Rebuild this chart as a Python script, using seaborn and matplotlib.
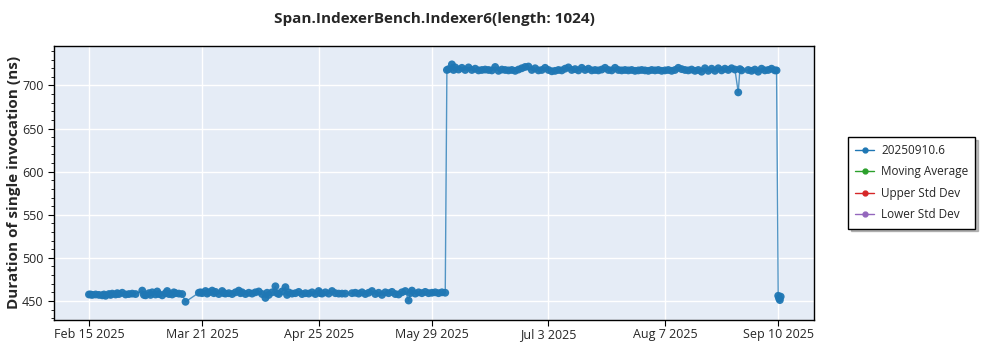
import matplotlib
matplotlib.use("Agg")
import matplotlib.pyplot as plt
from matplotlib.lines import Line2D
from matplotlib.ticker import MultipleLocator
import seaborn as sns
import pandas as pd

title = "Span.IndexerBench.Indexer6(length: 1024)"
ylabel = "Duration of single invocation (ns)"
series_name = "20250910.6"
legend_names = ["20250910.6", "Moving Average", "Upper Std Dev", "Lower Std Dev"]
legend_colors = ["#1f77b4", "#2ca02c", "#d62728", "#9467bd"]

tick_dates = ["2025-02-15", "2025-03-21", "2025-04-25", "2025-05-29",
              "2025-07-03", "2025-08-07", "2025-09-10"]
tick_labels = ["Feb 15 2025", "Mar 21 2025", "Apr 25 2025", "May 29 2025",
               "Jul 3 2025", "Aug 7 2025", "Sep 10 2025"]

dates = [
    "2025-02-15", "2025-02-15 12:00", "2025-02-16", "2025-02-17", "2025-02-18",
    "2025-02-19", "2025-02-19 12:00", "2025-02-20", "2025-02-21", "2025-02-21 12:00",
    "2025-02-22", "2025-02-23", "2025-02-23 12:00", "2025-02-24", "2025-02-25",
    "2025-02-26", "2025-02-27", "2025-02-28", "2025-03-01", "2025-03-03",
    "2025-03-03 12:00", "2025-03-04", "2025-03-05", "2025-03-05 12:00", "2025-03-06",
    "2025-03-07", "2025-03-07 12:00", "2025-03-08", "2025-03-09", "2025-03-10",
    "2025-03-10 12:00", "2025-03-11", "2025-03-12", "2025-03-12 12:00", "2025-03-13",
    "2025-03-14", "2025-03-15", "2025-03-16", "2025-03-20", "2025-03-20 12:00",
    "2025-03-21", "2025-03-22", "2025-03-22 12:00", "2025-03-23", "2025-03-24",
    "2025-03-24 12:00", "2025-03-25", "2025-03-26", "2025-03-27", "2025-03-27 12:00",
    "2025-03-28", "2025-03-29", "2025-03-30", "2025-03-31", "2025-04-01",
    "2025-04-01 12:00", "2025-04-02", "2025-04-03", "2025-04-04", "2025-04-05",
    "2025-04-06", "2025-04-07", "2025-04-08", "2025-04-09", "2025-04-09 12:00",
    "2025-04-10", "2025-04-11", "2025-04-12", "2025-04-12 12:00", "2025-04-13",
    "2025-04-14", "2025-04-15", "2025-04-15 12:00", "2025-04-16", "2025-04-17",
    "2025-04-18", "2025-04-19", "2025-04-20", "2025-04-21", "2025-04-22",
    "2025-04-23", "2025-04-24", "2025-04-25", "2025-04-25 12:00", "2025-04-26",
    "2025-04-27", "2025-04-28", "2025-04-29", "2025-04-30", "2025-05-01",
    "2025-05-02", "2025-05-03", "2025-05-05", "2025-05-06", "2025-05-07",
    "2025-05-08", "2025-05-09", "2025-05-10", "2025-05-11", "2025-05-12",
    "2025-05-13", "2025-05-14", "2025-05-15", "2025-05-16", "2025-05-17",
    "2025-05-18", "2025-05-19", "2025-05-20", "2025-05-21", "2025-05-22",
    "2025-05-22 12:00", "2025-05-23", "2025-05-24", "2025-05-25", "2025-05-26",
    "2025-05-27", "2025-05-28", "2025-05-29", "2025-05-30", "2025-05-31",
    "2025-06-01", "2025-06-02",
    "2025-06-02 12:00", "2025-06-03", "2025-06-04", "2025-06-04 12:00", "2025-06-05",
    "2025-06-06", "2025-06-07", "2025-06-08", "2025-06-09", "2025-06-10",
    "2025-06-11", "2025-06-12", "2025-06-13", "2025-06-14", "2025-06-15",
    "2025-06-16", "2025-06-17", "2025-06-18", "2025-06-19", "2025-06-20",
    "2025-06-21", "2025-06-22", "2025-06-23", "2025-06-24", "2025-06-25",
    "2025-06-26", "2025-06-27", "2025-06-28", "2025-06-29", "2025-06-30",
    "2025-07-01", "2025-07-02", "2025-07-03", "2025-07-04", "2025-07-05",
    "2025-07-06", "2025-07-07", "2025-07-08", "2025-07-09", "2025-07-10",
    "2025-07-11", "2025-07-12", "2025-07-13", "2025-07-14", "2025-07-15",
    "2025-07-16", "2025-07-17", "2025-07-18", "2025-07-19", "2025-07-20",
    "2025-07-21", "2025-07-22", "2025-07-23", "2025-07-24", "2025-07-25",
    "2025-07-26", "2025-07-27", "2025-07-28", "2025-07-29", "2025-07-30",
    "2025-07-31", "2025-08-01", "2025-08-02", "2025-08-03", "2025-08-04",
    "2025-08-05", "2025-08-06", "2025-08-07", "2025-08-08", "2025-08-09",
    "2025-08-10", "2025-08-11", "2025-08-12", "2025-08-13", "2025-08-14",
    "2025-08-15", "2025-08-16", "2025-08-17", "2025-08-18", "2025-08-19",
    "2025-08-20", "2025-08-21", "2025-08-22", "2025-08-23", "2025-08-24",
    "2025-08-25", "2025-08-26", "2025-08-27", "2025-08-28", "2025-08-29",
    "2025-08-29 12:00", "2025-08-30", "2025-09-01", "2025-09-02", "2025-09-03",
    "2025-09-04", "2025-09-05", "2025-09-06", "2025-09-07", "2025-09-08",
    "2025-09-09", "2025-09-09 12:00",
    "2025-09-10", "2025-09-10 06:00", "2025-09-10 12:00", "2025-09-10 18:00",
]

values = [
    457.5, 457.5, 457.0, 457.5, 457.0,
    456.5, 457.5, 456.0, 458.0, 457.0,
    458.5, 457.5, 459.0, 458.0, 459.5,
    457.5, 458.0, 458.5, 458.0, 462.0,
    457.0, 456.5, 459.0, 457.0, 460.0,
    457.5, 461.0, 458.0, 456.5, 459.0,
    461.5, 458.0, 457.5, 460.0, 459.0,
    458.5, 458.0, 449.0, 459.5, 460.0,
    459.0, 461.5, 458.5, 460.0, 462.0,
    459.0, 460.5, 458.0, 461.5, 459.0,
    458.5, 459.0, 458.0, 460.0, 462.0,
    459.0, 460.0, 458.0, 459.5, 458.5,
    460.0, 461.0, 458.0, 453.5, 459.5,
    457.0, 460.0, 467.0, 459.0, 458.0,
    461.0, 466.0, 457.0, 460.0, 458.5,
    459.0, 460.5, 458.0, 459.0, 458.5,
    460.0, 458.0, 461.5, 459.0, 458.5,
    460.0, 458.5, 461.5, 459.0, 458.5,
    458.5, 458.5, 459.0, 459.5, 458.5,
    460.0, 458.0, 459.5, 461.5, 458.0,
    459.5, 457.0, 460.0, 459.0, 460.5,
    458.0, 457.5, 460.0, 461.5, 450.5,
    459.0, 462.0, 458.5, 460.0, 459.0,
    460.5, 459.0, 459.5, 460.0, 459.0,
    460.0, 459.5,
    718.0, 719.0, 724.5, 718.0, 721.0,
    718.5, 720.5, 718.0, 721.0, 718.0,
    719.5, 717.5, 718.0, 718.5, 718.0,
    717.5, 721.5, 717.0, 718.5, 718.0,
    717.5, 718.0, 717.0, 718.5, 720.0,
    721.5, 722.0, 718.0, 720.0, 717.5,
    718.0, 720.5, 718.0, 716.5, 717.0,
    718.0, 717.5, 719.5, 721.0, 718.0,
    719.0, 717.5, 720.5, 718.0, 719.5,
    717.5, 718.0, 717.5, 718.5, 720.5,
    718.0, 717.5, 720.5, 718.0, 717.5,
    718.0, 717.5, 718.0, 717.0, 717.5,
    718.0, 717.5, 717.0, 718.0, 717.5,
    718.0, 717.0, 717.5, 718.0, 717.0,
    718.0, 720.5, 719.0, 718.0, 717.5,
    718.5, 717.0, 718.0, 716.0, 720.0,
    717.0, 719.5, 717.0, 720.0, 717.5,
    719.5, 718.0, 720.0, 718.5, 692.0,
    719.0, 717.5, 718.0, 717.0, 718.5,
    716.0, 719.5, 717.5, 718.0, 719.5,
    717.5, 717.5,
    456.0, 453.0, 451.0, 455.0,
]

df = pd.DataFrame({"date": pd.to_datetime(dates, format="mixed"), "value": values})

sns.set_theme(style="whitegrid")
plt.rcParams["font.family"] = ["Open Sans", "DejaVu Sans"]

fig = plt.figure(figsize=(10, 3.5), dpi=100)
ax = fig.add_axes([0.054, 0.086, 0.760, 0.783])
ax.set_facecolor("#E5ECF6")

sns.lineplot(data=df, x="date", y="value", ax=ax, estimator=None, sort=False,
             color="#1f77b4", linewidth=1.0, alpha=0.75, legend=False)
sns.scatterplot(data=df, x="date", y="value", ax=ax, color="#1f77b4", s=32,
                edgecolor="none", alpha=0.95, legend=False, zorder=3)

ax.set_xlim(pd.Timestamp("2025-02-04 12:00"), pd.Timestamp("2025-09-20 18:00"))
ax.set_ylim(428, 746)
ax.set_xticks(pd.to_datetime(tick_dates))
ax.set_xticklabels(tick_labels, fontsize=9)
ax.yaxis.set_major_locator(MultipleLocator(50))
ax.yaxis.set_minor_locator(MultipleLocator(10))
ax.tick_params(axis="y", which="major", length=4, width=0.8, labelsize=9, left=True, color="black")
ax.tick_params(axis="y", which="minor", length=2, width=0.6, left=True, color="black")
ax.tick_params(axis="x", which="major", length=4, width=0.8, bottom=True, color="black", pad=2)
ax.grid(True, which="major", color="white", linewidth=1.0)
ax.grid(False, which="minor")
for s in ax.spines.values():
    s.set_edgecolor("black")
    s.set_linewidth(1.0)

ax.set_xlabel("")
ax.set_ylabel(ylabel, fontsize=11, fontweight="bold", labelpad=1)
fig.text(0.434, 0.945, title, ha="center", va="center", fontsize=11, fontweight="bold")

handles = [Line2D([0], [0], color=c, marker="o", markersize=3.5, linewidth=1.0)
           for c in legend_colors]
leg = fig.legend(handles, legend_names, loc="upper left",
                 bbox_to_anchor=(0.848, 0.609), borderaxespad=0.0, fontsize=8.5,
                 frameon=True, fancybox=False, shadow={"ox": 2, "oy": -2, "color": "0.5"},
                 borderpad=0.6, handlelength=1.6, handletextpad=0.6,
                 labelspacing=0.72)
leg.get_frame().set_edgecolor("black")
leg.get_frame().set_linewidth(1.0)

fig.savefig("out.png", dpi=100)
